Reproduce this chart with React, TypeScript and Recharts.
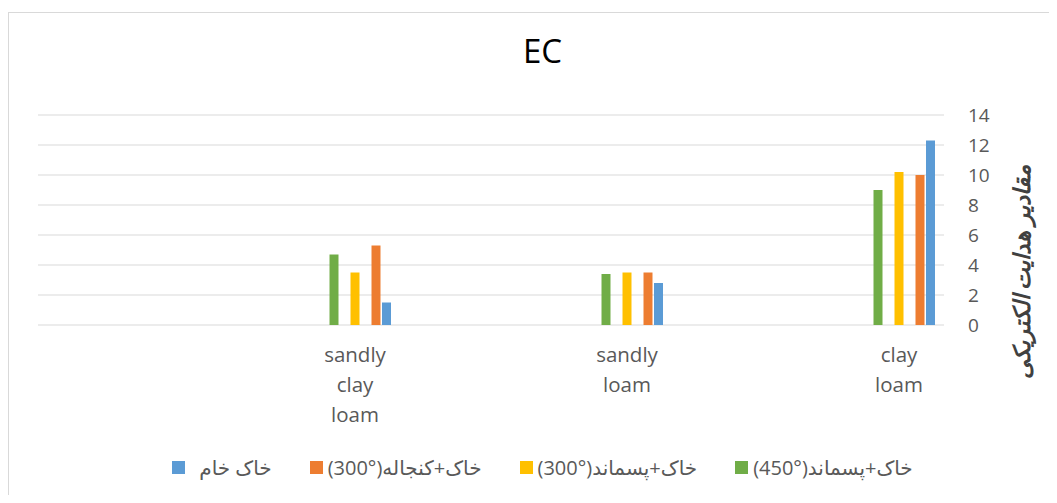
import { Bar, BarChart, CartesianGrid, Label, XAxis, YAxis } from "recharts";

const categories = ["sandly clay loam", "sandly loam", "clay loam"];
const soilWaste450 = [4.7, 3.4, 9.0];
const soilWaste300 = [3.5, 3.5, 10.2];
const soilMeal300 = [5.3, 3.5, 10.0];
const rawSoil = [1.5, 2.8, 12.3];
const yTicks = [0, 2, 4, 6, 8, 10, 12, 14];

const font = "'Open Sans', 'DejaVu Sans', sans-serif";
const textGray = "#595959";

// legend order (right to left in the picture)
const series = [
  { key: "waste450", name: "خاک+پسماند", temp: "450°", color: "#70ad47", values: soilWaste450 },
  { key: "waste300", name: "خاک+پسماند", temp: "300°", color: "#ffc000", values: soilWaste300 },
  { key: "meal300", name: "خاک+کنجاله", temp: "300°", color: "#ed7d31", values: soilMeal300 },
  { key: "raw", name: "خاک خام", temp: "", color: "#5b9bd5", values: rawSoil }
];

// the source chart leaves empty slots between some of the bars
const slots = ["gap1", "waste450", "gap2", "waste300", "gap3", "meal300", "raw"];

const rows = categories.map((name, i) => {
  const row: Record<string, string | number> = { name };
  series.forEach((s) => {
    row[s.key] = s.values[i];
  });
  return row;
});

function CategoryTick({ x, y, payload }: any) {
  const words = String(payload.value).split(" ");
  return (
    <text x={x} y={y} textAnchor="middle" fill={textGray} fontSize={20.5} fontFamily={font}>
      {words.map((w, i) => (
        <tspan key={i} x={x} dy={i === 0 ? 29 : 30}>
          {w}
        </tspan>
      ))}
    </text>
  );
}

function AxisTitle(props: any) {
  const vb = props.viewBox || { x: 935, y: 102, width: 80, height: 210 };
  const cx = vb.x + 77;
  const cy = vb.y + vb.height / 2 + 52;
  return (
    <text
      x={cx}
      y={cy}
      transform={`rotate(-90 ${cx} ${cy})`}
      textAnchor="middle"
      dominantBaseline="central"
      fill="#404040"
      fontSize={23}
      fontWeight="bold"
      fontStyle="italic"
      fontFamily={font}
    >
      مقادیر هدایت الکتریکی
    </text>
  );
}

export default function App() {
  return (
    <div style={{ position: "relative", width: 1049, height: 487, overflow: "hidden" }}>
      <div
        style={{
          position: "absolute",
          left: 0,
          top: 4,
          width: 1069,
          height: 520,
          border: "1px solid #d9d9d9",
          boxSizing: "border-box",
          background: "#fff"
        }}
      >
        <div
          style={{
            position: "absolute",
            left: 0,
            top: 18,
            width: 1067,
            textAlign: "center",
            fontFamily: font,
            fontSize: 33,
            lineHeight: "40px",
            color: "#000"
          }}
        >
          EC
        </div>
        <BarChart
          width={1067}
          height={518}
          data={rows}
          barSize={9}
          barGap={1.5}
          margin={{ top: 102, right: 52, bottom: 106, left: 29 }}
          style={{ position: "absolute", left: 0, top: 0 }}
        >
          <CartesianGrid stroke="#d9d9d9" vertical={false} />
          <XAxis
            dataKey="name"
            axisLine={false}
            tickLine={false}
            height={100}
            padding={{ left: 181, right: -91 }}
            interval={0}
            tick={<CategoryTick />}
          />
          <YAxis
            orientation="right"
            domain={[0, 14]}
            ticks={yTicks}
            axisLine={false}
            tickLine={false}
            width={80}
            tickMargin={18}
            tick={{ fill: textGray, fontSize: 19, fontFamily: font }}
          >
            <Label content={<AxisTitle />} />
          </YAxis>
          {slots.map((key) => {
            const s = series.find((item) => item.key === key);
            return (
              <Bar
                key={key}
                dataKey={key}
                name={s ? s.name : key}
                fill={s ? s.color : "none"}
                legendType="none"
                isAnimationActive={false}
              />
            );
          })}
        </BarChart>
        <div
          style={{
            position: "absolute",
            left: 0,
            top: 444,
            width: 1067,
            display: "flex",
            justifyContent: "center",
            alignItems: "center",
            height: 20,
            fontFamily: font,
            fontSize: 20,
            color: textGray
          }}
        >
          {[...series].reverse().map((s) => (
            <div key={s.key} style={{ display: "flex", alignItems: "center", margin: "0 19px" }}>
              <span style={{ width: 13, height: 13, background: s.color, marginRight: s.temp ? 5 : 14 }} />
              <span dir="rtl" style={{ whiteSpace: "pre" }}>
                {s.name}
                {s.temp ? (
                  <>
                    (<bdi dir="ltr">{s.temp}</bdi>)
                  </>
                ) : null}
              </span>
            </div>
          ))}
        </div>
      </div>
    </div>
  );
}
